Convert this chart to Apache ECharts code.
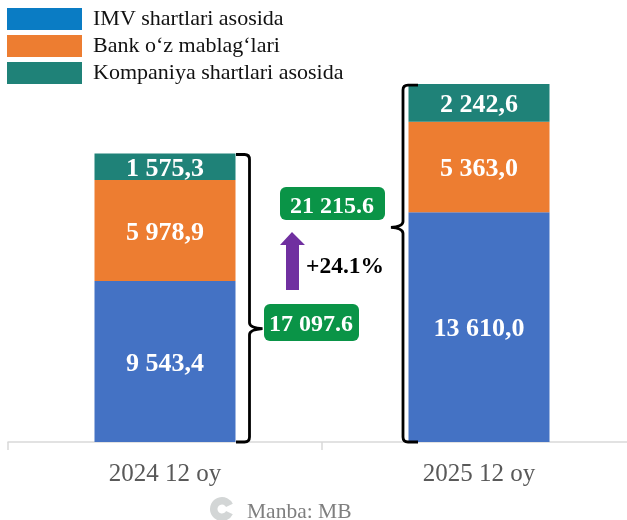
<!DOCTYPE html>
<html><head><meta charset="utf-8">
<style>html,body{margin:0;padding:0;background:#fff}#c{width:627px;height:520px}</style>
<script src="https://cdn.jsdelivr.net/npm/echarts@6/dist/echarts.min.js"></script></head>
<body><div id="c"></div>
<script>
const categories = ['2024 12 oy', '2025 12 oy'];
const imv = [9543.4, 13610.0];
const bank = [5978.9, 5363.0];
const company = [1575.3, 2242.6];
const totals = [17097.6, 21215.6];
const totalLabels = ['17 097.6', '21 215.6'];
const braceTips = [6715, 12717];
const growthLabel = '+24.1%';
const FONT = '"Liberation Serif", serif';
const fmt = v => {
  const [a, b] = v.toFixed(1).split('.');
  return a.replace(/\B(?=(\d{3})+$)/g, ' ') + ',' + b;
};
const chart = echarts.init(document.getElementById('c'), null, {renderer: 'canvas'});
const barSeries = (name, data, color) => ({
  name, type: 'bar', stack: 'a', data, barWidth: 141,
  itemStyle: {color},
  label: {show: true, position: 'inside', offset: [0, 2.5], color: '#fff', fontFamily: FONT, fontWeight: 'bold', fontSize: 26,
    formatter: p => fmt(p.value)}
});
const braceShape = [
  {end: 0.5, spine: 14, tip: 27},
  {end: 9.5, spine: -5.5, tip: -17.5}
];
function brace(params, api) {
  const i = params.dataIndex;
  const top = api.coord([i, totals[i]]);
  const bot = api.coord([i, 0]);
  const tip = api.coord([i, braceTips[i]]);
  const side = i === 0 ? 1 : -1;
  const edge = top[0] + side * 70.5;
  const b = braceShape[i];
  const x0 = edge + b.end, s = edge + b.spine, t = edge + b.tip;
  const dir = Math.sign(s - x0);
  const y0 = top[1] + 1, y1 = bot[1], yt = tip[1];
  const r = 5;
  const path =
    `M${x0} ${y0} L${s - dir * r} ${y0} Q${s} ${y0} ${s} ${y0 + r} L${s} ${yt - 6} Q${s} ${yt - 1} ${t} ${yt}` +
    ` Q${s} ${yt + 1} ${s} ${yt + 6} L${s} ${y1 - r} Q${s} ${y1} ${s - dir * r} ${y1} L${x0} ${y1}`;
  return {type: 'path', shape: {pathData: path, layout: 'cover', x: Math.min(x0, t), y: y0, width: Math.abs(t - x0), height: y1 - y0},
    style: {fill: 'none', stroke: '#000', lineWidth: 2.8}, z2: 10};
}
const legendColors = ['#0A7CC4', '#ED7D31', '#1F8278'];
const names = ['IMV shartlari asosida', 'Bank o\u2018z mablag\u2018lari', 'Kompaniya shartlari asosida'];
chart.setOption({
  animation: false,
  legend: {
    orient: 'vertical', left: 7, top: 8, padding: 0, itemWidth: 75, itemHeight: 22, itemGap: 5,
    textStyle: {fontFamily: FONT, fontSize: 22, color: '#111', padding: [4, 0, 0, 6]},
    data: names.map((name, i) => ({name, icon: 'rect', itemStyle: {color: legendColors[i]}}))
  },
  grid: {left: 8, width: 628, top: 70.8, height: 371.2, containLabel: false, outerBoundsMode: 'none'},
  xAxis: {
    type: 'category', data: categories,
    axisLine: {lineStyle: {color: '#D9D9D9', width: 1.5}},
    axisTick: {show: true, length: 8, lineStyle: {color: '#D9D9D9', width: 1.5}},
    axisLabel: {color: '#595959', fontFamily: FONT, fontSize: 25, margin: 20}
  },
  yAxis: {type: 'value', min: 0, max: 22000, show: false, splitLine: {show: false}},
  series: [
    barSeries(names[0], imv, '#4472C4'),
    barSeries(names[1], bank, '#ED7D31'),
    barSeries(names[2], company, '#1F8278'),
    {type: 'custom', name: 'brace', data: totals.map((v, i) => [i, v]), renderItem: brace, silent: true, z: 5}
  ],
  graphic: [
    {type: 'rect', shape: {x: 264, y: 304, width: 95, height: 37, r: 6}, style: {fill: '#0A9447'}},
    {type: 'text', x: 269, y: 313, style: {text: totalLabels[0], fill: '#fff', font: 'bold 24px ' + FONT}},
    {type: 'rect', shape: {x: 280, y: 187, width: 105, height: 33, r: 6}, style: {fill: '#0A9447'}},
    {type: 'text', x: 290, y: 195, style: {text: totalLabels[1], fill: '#fff', font: 'bold 24px ' + FONT}},
    {type: 'polygon', shape: {points: [[292, 232], [305, 245], [299, 245], [299, 290], [286, 290], [286, 245], [280, 245]]}, style: {fill: '#7030A0'}},
    {type: 'text', x: 306, y: 255, style: {text: growthLabel, fill: '#000', font: 'bold 23.5px ' + FONT}},
    {type: 'sector', shape: {cx: 222, cy: 509, r: 12, r0: 4.5, startAngle: 0.45, endAngle: -0.45, clockwise: true}, style: {fill: '#D3D6D6'}},
    {type: 'text', x: 247, y: 501, style: {text: 'Manba: MB', fill: '#7F7F7F', font: '21.5px ' + FONT}}
  ]
});
</script></body></html>
